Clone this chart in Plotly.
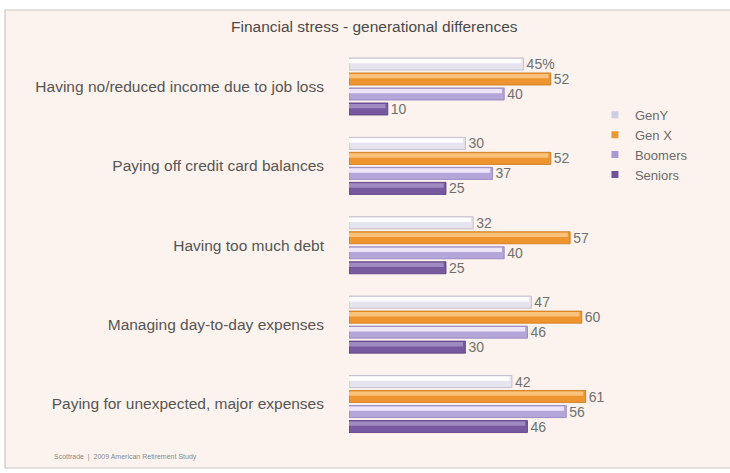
import plotly.graph_objects as go

categories = [
    "Having no/reduced income due to job loss",
    "Paying off credit card balances",
    "Having too much debt",
    "Managing day-to-day expenses",
    "Paying for unexpected, major expenses",
]
series_names = ["GenY", "Gen X", "Boomers", "Seniors"]
gen_y = [45, 30, 32, 47, 42]
gen_x = [52, 52, 57, 60, 61]
boomers = [40, 37, 40, 46, 56]
seniors = [10, 25, 25, 30, 46]
values = [gen_y, gen_x, boomers, seniors]

title_text = "Financial stress - generational differences"
source_text = "Scottrade  |  2009 American Retirement Study"

W, H = 730, 473
FONT = "Liberation Sans Narrow, Arial Narrow, sans-serif"

base_colors = ["#e6e4ee", "#ef9530", "#b4a6d8", "#77599f"]
edge_colors = ["#b9b6c8", "#c97718", "#8e7fbe", "#553b80"]
light_colors = ["#fdfdfe", "#f9c27a", "#ece6f8", "#a08ac2"]
legend_colors = ["#cfcde0", "#ec9a38", "#a999d2", "#6f5497"]

bar_w = 0.152          # bar thickness in category units
step = 0.189           # distance between bars inside a group
hl_w = 0.055           # highlight stripe thickness

fig = go.Figure()
for i, (name, vals) in enumerate(zip(series_names, values)):
    center = (i - 1.5) * step
    start = center - bar_w / 2
    labels = [f"{v}%" if (i == 0 and j == 0) else f"{v}" for j, v in enumerate(vals)]
    fig.add_trace(go.Bar(
        name=name, y=categories, x=vals, orientation="h",
        width=bar_w, offset=start,
        marker=dict(color=base_colors[i], line=dict(color=edge_colors[i], width=0.8)),
        text=labels, textposition="outside", constraintext="none",
        textfont=dict(family=FONT, size=14, color="#707070"),
        cliponaxis=False, showlegend=False,
    ))
    # lighter sheen along the top of each bar
    fig.add_trace(go.Bar(
        y=categories, x=[v - 0.6 for v in vals], orientation="h",
        width=hl_w, offset=start + 0.012,
        marker=dict(color=light_colors[i], line=dict(width=0)),
        showlegend=False, hoverinfo="skip",
    ))

# small square swatches for the legend
for i, name in enumerate(series_names):
    fig.add_trace(go.Scatter(
        name=name, x=[None], y=[None], mode="markers",
        marker=dict(symbol="square", size=7, color=legend_colors[i]),
        showlegend=True, hoverinfo="skip",
    ))

x0_px, px_per_unit = 349, 3.88
xmax = 70
x_dom = [x0_px / W, (x0_px + px_per_unit * xmax) / W]
top_px, bot_px = 46.8, 443.7
y_dom = [1 - bot_px / H, 1 - top_px / H]

fig.update_layout(
    width=W, height=H,
    margin=dict(l=0, r=0, t=0, b=0),
    paper_bgcolor="white",
    plot_bgcolor="rgba(0,0,0,0)",
    barmode="overlay",
    font=dict(family=FONT, color="#555555"),
    xaxis=dict(domain=x_dom, range=[0, xmax], visible=False, fixedrange=True),
    yaxis=dict(domain=y_dom, autorange="reversed", showgrid=False, zeroline=False,
               showline=False, ticks="", ticklabelstandoff=24,
               tickfont=dict(family=FONT, size=15.5, color="#555555")),
    legend=dict(x=0.815, y=0.789, xanchor="left", yanchor="top",
                bgcolor="rgba(0,0,0,0)", tracegroupgap=0,
                font=dict(family=FONT, size=13, color="#6a6a6a"),
                itemwidth=30),
    showlegend=True,
    shapes=[
        dict(type="rect", xref="paper", yref="paper",
             x0=5 / W, x1=1.01, y0=1 - 468 / H, y1=1 - 10 / H,
             fillcolor="#fdf3ee", line=dict(color="#c9c6c4", width=1.2), layer="below"),
    ],
    annotations=[
        dict(text=title_text, x=374 / W, y=1 - 27 / H, xref="paper", yref="paper",
             xanchor="center", yanchor="middle", showarrow=False,
             font=dict(family=FONT, size=15.5, color="#4a4a4a")),
        dict(text=source_text, x=52 / W, y=1 - 457 / H, xref="paper", yref="paper",
             xanchor="left", yanchor="middle", showarrow=False,
             font=dict(family=FONT, size=7, color="#8a8a8a")),
    ],
)

fig.write_html("out.html")
